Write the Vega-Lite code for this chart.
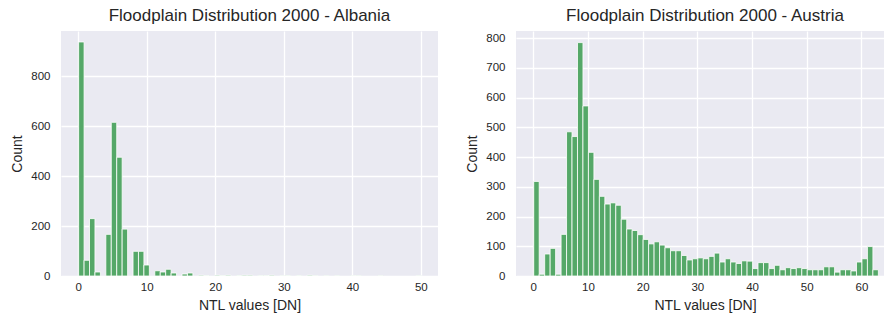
{
  "$schema": "https://vega.github.io/schema/vega-lite/v6.json",
  "padding": {"left": 10, "top": 7, "right": 0, "bottom": 2},
  "spacing": 27,
  "background": "white",
  "datasets": {
    "albania": [
      {"start": 0.000, "end": 0.794, "count": 938},
      {"start": 0.794, "end": 1.587, "count": 63},
      {"start": 1.587, "end": 2.381, "count": 230},
      {"start": 2.381, "end": 3.175, "count": 16},
      {"start": 3.968, "end": 4.762, "count": 167},
      {"start": 4.762, "end": 5.556, "count": 616},
      {"start": 5.556, "end": 6.349, "count": 476},
      {"start": 6.349, "end": 7.143, "count": 188},
      {"start": 7.937, "end": 8.730, "count": 99},
      {"start": 8.730, "end": 9.524, "count": 99},
      {"start": 9.524, "end": 10.317, "count": 44},
      {"start": 11.111, "end": 11.905, "count": 21},
      {"start": 11.905, "end": 12.698, "count": 16},
      {"start": 12.698, "end": 13.492, "count": 27},
      {"start": 13.492, "end": 14.286, "count": 12},
      {"start": 15.079, "end": 15.873, "count": 8},
      {"start": 15.873, "end": 16.667, "count": 12},
      {"start": 17.460, "end": 18.254, "count": 3},
      {"start": 18.254, "end": 19.048, "count": 2},
      {"start": 19.841, "end": 20.635, "count": 3},
      {"start": 20.635, "end": 21.429, "count": 2},
      {"start": 21.429, "end": 22.222, "count": 3},
      {"start": 23.016, "end": 23.810, "count": 2},
      {"start": 23.810, "end": 24.603, "count": 3},
      {"start": 24.603, "end": 25.397, "count": 3},
      {"start": 26.190, "end": 26.984, "count": 2},
      {"start": 26.984, "end": 27.778, "count": 2},
      {"start": 27.778, "end": 28.571, "count": 3},
      {"start": 29.365, "end": 30.159, "count": 1},
      {"start": 30.159, "end": 30.952, "count": 2},
      {"start": 31.746, "end": 32.540, "count": 2},
      {"start": 33.333, "end": 34.127, "count": 3},
      {"start": 34.127, "end": 34.921, "count": 1},
      {"start": 35.714, "end": 36.508, "count": 1},
      {"start": 37.302, "end": 38.095, "count": 1},
      {"start": 39.683, "end": 40.476, "count": 2},
      {"start": 40.476, "end": 41.270, "count": 1},
      {"start": 43.651, "end": 44.444, "count": 1},
      {"start": 49.206, "end": 50.000, "count": 1}
    ],
    "austria": [
      {"start": 0, "end": 1, "count": 318},
      {"start": 1, "end": 2, "count": 6},
      {"start": 2, "end": 3, "count": 74},
      {"start": 3, "end": 4, "count": 93},
      {"start": 4, "end": 5, "count": 6},
      {"start": 5, "end": 6, "count": 140},
      {"start": 6, "end": 7, "count": 485},
      {"start": 7, "end": 8, "count": 469},
      {"start": 8, "end": 9, "count": 785},
      {"start": 9, "end": 10, "count": 572},
      {"start": 10, "end": 11, "count": 416},
      {"start": 11, "end": 12, "count": 325},
      {"start": 12, "end": 13, "count": 268},
      {"start": 13, "end": 14, "count": 242},
      {"start": 14, "end": 15, "count": 246},
      {"start": 15, "end": 16, "count": 238},
      {"start": 16, "end": 17, "count": 191},
      {"start": 17, "end": 18, "count": 158},
      {"start": 18, "end": 19, "count": 153},
      {"start": 19, "end": 20, "count": 139},
      {"start": 20, "end": 21, "count": 123},
      {"start": 21, "end": 22, "count": 108},
      {"start": 22, "end": 23, "count": 115},
      {"start": 23, "end": 24, "count": 104},
      {"start": 24, "end": 25, "count": 95},
      {"start": 25, "end": 26, "count": 85},
      {"start": 26, "end": 27, "count": 85},
      {"start": 27, "end": 28, "count": 69},
      {"start": 28, "end": 29, "count": 54},
      {"start": 29, "end": 30, "count": 58},
      {"start": 30, "end": 31, "count": 61},
      {"start": 31, "end": 32, "count": 58},
      {"start": 32, "end": 33, "count": 66},
      {"start": 33, "end": 34, "count": 77},
      {"start": 34, "end": 35, "count": 47},
      {"start": 35, "end": 36, "count": 58},
      {"start": 36, "end": 37, "count": 47},
      {"start": 37, "end": 38, "count": 42},
      {"start": 38, "end": 39, "count": 51},
      {"start": 39, "end": 40, "count": 50},
      {"start": 40, "end": 41, "count": 25},
      {"start": 41, "end": 42, "count": 45},
      {"start": 42, "end": 43, "count": 45},
      {"start": 43, "end": 44, "count": 25},
      {"start": 44, "end": 45, "count": 36},
      {"start": 45, "end": 46, "count": 21},
      {"start": 46, "end": 47, "count": 28},
      {"start": 47, "end": 48, "count": 25},
      {"start": 48, "end": 49, "count": 28},
      {"start": 49, "end": 50, "count": 25},
      {"start": 50, "end": 51, "count": 21},
      {"start": 51, "end": 52, "count": 21},
      {"start": 52, "end": 53, "count": 21},
      {"start": 53, "end": 54, "count": 31},
      {"start": 54, "end": 55, "count": 31},
      {"start": 55, "end": 56, "count": 13},
      {"start": 56, "end": 57, "count": 21},
      {"start": 57, "end": 58, "count": 21},
      {"start": 58, "end": 59, "count": 17},
      {"start": 59, "end": 60, "count": 47},
      {"start": 60, "end": 61, "count": 58},
      {"start": 61, "end": 62, "count": 99},
      {"start": 62, "end": 63, "count": 21}
    ]
  },
  "hconcat": [
    {
      "width": 377,
      "height": 245,
      "title": {"text": "Floodplain Distribution 2000 - Albania"},
      "data": {"name": "albania"},
      "mark": {"type": "bar", "color": "#55A868", "stroke": "white", "strokeWidth": 0.8, "binSpacing": 0},
      "encoding": {
        "x": {"field": "start", "type": "quantitative", "bin": "binned", "title": "NTL values [DN]",
              "scale": {"domain": [-2.5, 52.5], "nice": false, "zero": false},
              "axis": {"values": [0, 10, 20, 30, 40, 50]}},
        "x2": {"field": "end"},
        "y": {"field": "count", "type": "quantitative", "title": "Count",
              "scale": {"domain": [0, 982], "nice": false},
              "axis": {"values": [0, 200, 400, 600, 800]}}
      }
    },
    {
      "width": 368,
      "height": 245,
      "title": {"text": "Floodplain Distribution 2000 - Austria", "dx": 5},
      "data": {"name": "austria"},
      "mark": {"type": "bar", "color": "#55A868", "stroke": "white", "strokeWidth": 0.8, "binSpacing": 0},
      "encoding": {
        "x": {"field": "start", "type": "quantitative", "bin": "binned", "title": "NTL values [DN]",
              "scale": {"domain": [-3.15, 64.12], "nice": false, "zero": false},
              "axis": {"values": [0, 10, 20, 30, 40, 50, 60], "titleX": 189}},
        "x2": {"field": "end"},
        "y": {"field": "count", "type": "quantitative", "title": "Count",
              "scale": {"domain": [0, 824], "nice": false},
              "axis": {"values": [0, 100, 200, 300, 400, 500, 600, 700, 800]}}
      }
    }
  ],
  "config": {
    "view": {"fill": "#EAEAF2", "stroke": null},
    "axis": {
      "domain": false,
      "ticks": false,
      "grid": true,
      "gridColor": "white",
      "gridWidth": 1.3,
      "labelFont": "Liberation Sans",
      "labelFontSize": 11.5,
      "labelColor": "#262626",
      "titleFont": "Liberation Sans",
      "titleFontSize": 14,
      "titleFontWeight": "normal",
      "titleColor": "#262626"
    },
    "axisX": {"labelPadding": 5, "titlePadding": 6},
    "axisY": {"labelPadding": 11, "titlePadding": 6},
    "title": {"font": "Liberation Sans", "fontSize": 17, "fontWeight": "normal", "color": "#262626", "offset": 6}
  }
}
